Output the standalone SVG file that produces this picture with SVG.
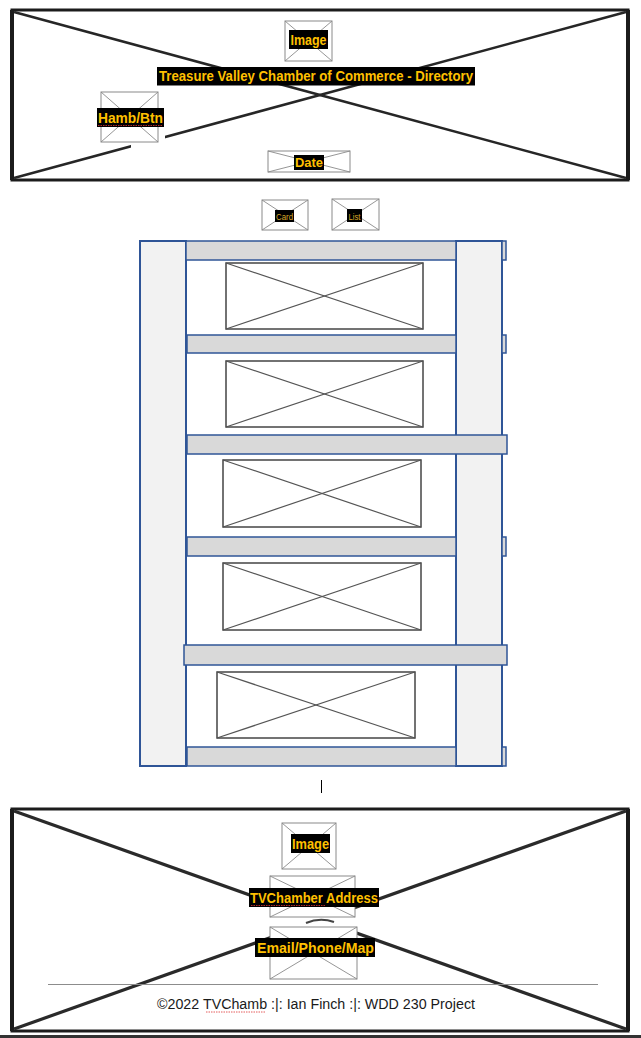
<svg xmlns="http://www.w3.org/2000/svg" width="641" height="1038" viewBox="0 0 641 1038">
<style>
.frame{fill:none;stroke:#1c1c1c;stroke-width:3}
.side{stroke:#1c1c1c;stroke-width:4}
.bigx{stroke:#262626;stroke-width:2.5}
.bigx2{stroke:#2a2a2a;stroke-width:3.2}
.ph{fill:#fff;stroke:#8a8a8a;stroke-width:1}
.phx{stroke:#8a8a8a;stroke-width:0.9}
.lbl{fill:#000}
.t{font-family:"Liberation Sans",Arial,sans-serif;font-weight:bold;fill:#FFC000;text-anchor:middle}
.col{fill:#f2f2f2;stroke:#2f5597;stroke-width:2}
.bar{fill:#d9d9d9;stroke:#2f5597;stroke-width:1.5}
.img{fill:#fff;stroke:#444;stroke-width:1.5}
.imgx{stroke:#555;stroke-width:1.2}
.sq{fill:none;stroke:#d33;stroke-width:0.8;stroke-dasharray:1.5 1}
</style>

<g id="header">
  <rect x="12" y="10" width="616" height="170" fill="#fff" class="frame"/>
  <line x1="12" y1="10" x2="12" y2="180" class="side"/>
  <line x1="628" y1="10" x2="628" y2="180" class="side"/>
  <line x1="14" y1="12" x2="626" y2="178" class="bigx"/>
  <line x1="14" y1="178" x2="626" y2="12" class="bigx"/>
  <rect x="131" y="134" width="34" height="18" fill="#fff"/>
</g>

<g id="header-image">
  <rect x="285" y="21" width="47" height="40" class="ph"/>
  <line x1="285" y1="21" x2="332" y2="61" class="phx"/>
  <line x1="285" y1="61" x2="332" y2="21" class="phx"/>
  <rect x="289" y="30" width="39" height="19" class="lbl"/>
  <text x="308.5" y="45" class="t" font-size="14" textLength="36" lengthAdjust="spacingAndGlyphs">Image</text>
</g>

<g id="title">
  <rect x="157" y="67" width="318" height="18.5" class="lbl"/>
  <text x="316" y="81" class="t" font-size="14" textLength="314" lengthAdjust="spacingAndGlyphs">Treasure Valley Chamber of Commerce - Directory</text>
</g>

<g id="hamb-btn">
  <rect x="101" y="92" width="57" height="50" class="ph"/>
  <line x1="101" y1="92" x2="158" y2="142" class="phx"/>
  <line x1="101" y1="142" x2="158" y2="92" class="phx"/>
  <rect x="97" y="108" width="67" height="19" class="lbl"/>
  <text x="130.5" y="123" class="t" font-size="14" textLength="65" lengthAdjust="spacingAndGlyphs">Hamb/Btn</text>
  <line x1="98" y1="125.5" x2="163" y2="125.5" class="sq"/>
</g>

<g id="date">
  <rect x="268" y="151" width="82" height="21" class="ph"/>
  <line x1="268" y1="151" x2="350" y2="172" class="phx"/>
  <line x1="268" y1="172" x2="350" y2="151" class="phx"/>
  <rect x="294" y="155" width="30" height="15" class="lbl"/>
  <text x="309" y="167" class="t" font-size="13" textLength="28" lengthAdjust="spacingAndGlyphs">Date</text>
</g>

<g id="card-btn">
  <rect x="262" y="200" width="46" height="30" class="ph"/>
  <line x1="262" y1="200" x2="308" y2="230" class="phx"/>
  <line x1="262" y1="230" x2="308" y2="200" class="phx"/>
  <rect x="275" y="210" width="19" height="12" class="lbl"/>
  <text x="284.5" y="219.5" class="t" font-size="9" font-weight="normal" style="font-weight:normal;fill:#d9a92a" textLength="17" lengthAdjust="spacingAndGlyphs">Card</text>
</g>

<g id="list-btn">
  <rect x="332" y="199" width="47" height="31" class="ph"/>
  <line x1="332" y1="199" x2="379" y2="230" class="phx"/>
  <line x1="332" y1="230" x2="379" y2="199" class="phx"/>
  <rect x="347" y="209" width="15" height="13" class="lbl"/>
  <text x="354.5" y="219.5" class="t" style="font-weight:normal;fill:#d9a92a" font-size="9" textLength="12" lengthAdjust="spacingAndGlyphs">List</text>
</g>

<g id="directory">
  <rect x="140" y="241" width="46" height="525" class="col"/>
  <rect x="456" y="241" width="46" height="525" class="col"/>
  <rect x="186" y="241" width="270" height="19" class="bar"/>
  <rect x="502" y="241" width="4" height="19" class="bar"/>
  <rect x="187" y="335" width="269" height="18" class="bar"/>
  <rect x="502" y="335" width="4" height="18" class="bar"/>
  <rect x="187" y="435" width="320" height="19" class="bar"/>
  <rect x="187" y="537" width="269" height="19" class="bar"/>
  <rect x="502" y="537" width="4" height="19" class="bar"/>
  <rect x="184" y="645" width="323" height="20" class="bar"/>
  <rect x="187" y="747" width="269" height="19" class="bar"/>
  <rect x="502" y="747" width="4" height="19" class="bar"/>
</g>

<g id="card-1">
  <rect x="226" y="263" width="197" height="66" class="img"/>
  <line x1="226" y1="263" x2="423" y2="329" class="imgx"/>
  <line x1="226" y1="329" x2="423" y2="263" class="imgx"/>
</g>
<g id="card-2">
  <rect x="226" y="361" width="197" height="66" class="img"/>
  <line x1="226" y1="361" x2="423" y2="427" class="imgx"/>
  <line x1="226" y1="427" x2="423" y2="361" class="imgx"/>
</g>
<g id="card-3">
  <rect x="223" y="460" width="198" height="67" class="img"/>
  <line x1="223" y1="460" x2="421" y2="527" class="imgx"/>
  <line x1="223" y1="527" x2="421" y2="460" class="imgx"/>
</g>
<g id="card-4">
  <rect x="223" y="563" width="198" height="67" class="img"/>
  <line x1="223" y1="563" x2="421" y2="630" class="imgx"/>
  <line x1="223" y1="630" x2="421" y2="563" class="imgx"/>
</g>
<g id="card-5">
  <rect x="217" y="672" width="198" height="66" class="img"/>
  <line x1="217" y1="672" x2="415" y2="738" class="imgx"/>
  <line x1="217" y1="738" x2="415" y2="672" class="imgx"/>
</g>

<g id="cursor">
  <line x1="321.5" y1="780" x2="321.5" y2="793" stroke="#000" stroke-width="1"/>
</g>

<g id="footer">
  <rect x="12" y="809" width="616" height="222" fill="#fff" class="frame"/>
  <line x1="12" y1="809" x2="12" y2="1031" class="side"/>
  <line x1="628" y1="809" x2="628" y2="1031" class="side"/>
  <line x1="14" y1="811" x2="626" y2="1029" class="bigx2"/>
  <line x1="14" y1="1029" x2="626" y2="811" class="bigx2"/>
  <rect x="290" y="917" width="70" height="10" fill="#fff"/>
  <path d="M306,923 Q320,917 334,922" fill="none" stroke="#444" stroke-width="2"/>
  <line x1="48" y1="984.5" x2="598" y2="984.5" stroke="#8c8c8c" stroke-width="1"/>
  <text x="316" y="1009" font-family="'Liberation Sans',Arial,sans-serif" font-size="14" fill="#1a1a1a" text-anchor="middle" textLength="318" lengthAdjust="spacingAndGlyphs">©2022 TVChamb :|: Ian Finch :|: WDD 230 Project</text>
  <line x1="206" y1="1012" x2="266" y2="1012" class="sq"/>
  <rect x="0" y="1035" width="641" height="3" fill="#333"/>
</g>

<g id="footer-image">
  <rect x="282" y="823" width="54" height="46" class="ph"/>
  <line x1="282" y1="823" x2="336" y2="869" class="phx"/>
  <line x1="282" y1="869" x2="336" y2="823" class="phx"/>
  <rect x="291" y="834" width="39" height="19" class="lbl"/>
  <text x="310.5" y="849" class="t" font-size="14" textLength="37" lengthAdjust="spacingAndGlyphs">Image</text>
</g>

<g id="address">
  <rect x="270" y="876" width="85" height="41" class="ph"/>
  <line x1="270" y1="876" x2="355" y2="917" class="phx"/>
  <line x1="270" y1="917" x2="355" y2="876" class="phx"/>
  <rect x="249" y="888" width="130" height="19" class="lbl"/>
  <text x="314" y="903" class="t" font-size="14" textLength="128" lengthAdjust="spacingAndGlyphs">TVChamber Address</text>
  <line x1="251" y1="905.5" x2="326" y2="905.5" class="sq"/>
</g>

<g id="contact">
  <rect x="270" y="927" width="87" height="52" class="ph"/>
  <line x1="270" y1="927" x2="357" y2="979" class="phx"/>
  <line x1="270" y1="979" x2="357" y2="927" class="phx"/>
  <rect x="255" y="938" width="120" height="19" class="lbl"/>
  <text x="315.5" y="953" class="t" font-size="14" textLength="117" lengthAdjust="spacingAndGlyphs">Email/Phone/Map</text>
</g>
</svg>
